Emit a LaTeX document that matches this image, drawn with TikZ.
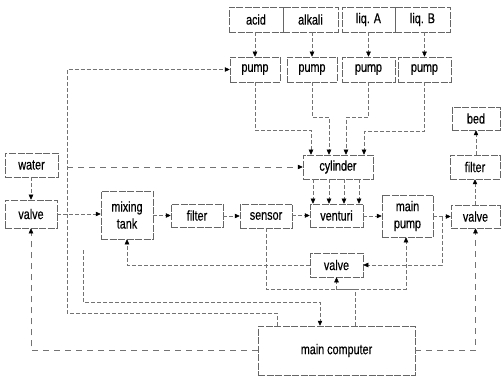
\documentclass[tikz,border=0pt]{standalone}
\usepackage{fontspec}
\newfontfamily\diagfont[FakeStretch=0.76,FakeBold=0.4]{Liberation Sans}
\usetikzlibrary{arrows.meta}
\tikzset{
  box/.style={draw=black!60, line width=0.5pt, dash pattern=on 7pt off 1.5pt,
    inner sep=0pt, align=center, font=\diagfont\fontsize{14.2}{17}\selectfont},
  conn/.style={draw=black!55, line width=0.5pt, dash pattern=on 4pt off 2pt},
  arr/.style={conn, -{Triangle[length=5pt,width=4.5pt,black]}},
}
\begin{document}
\begin{tikzpicture}[x=1pt,y=-1pt]
\useasboundingbox (0,0) rectangle (501,377);
% top supply boxes
\node[box, minimum width=54pt, minimum height=25pt] (acid) at (256,19.5) {acid};
\node[box, minimum width=55pt, minimum height=25pt] (alkali) at (310.5,19.5) {alkali};
\node[box, minimum width=53pt, minimum height=25pt] (liqA) at (368.5,19.5) {liq. A};
\node[box, minimum width=55pt, minimum height=25pt] (liqB) at (422.5,19.5) {liq. B};
% pumps
\node[box, minimum width=50pt, minimum height=25pt] (pump1) at (255,69.5) {pump};
\node[box, minimum width=50pt, minimum height=25pt] (pump2) at (312,69.5) {pump};
\node[box, minimum width=53pt, minimum height=25pt] (pump3) at (368.5,69.5) {pump};
\node[box, minimum width=53pt, minimum height=25pt] (pump4) at (424.5,69.5) {pump};
% right column
\node[box, minimum width=48pt, minimum height=23pt] (bed) at (476,118.5) {bed};
\node[box, minimum width=50pt, minimum height=24pt] (filterB) at (475,167) {filter};
\node[box, minimum width=49pt, minimum height=23pt] (valveR) at (475.5,216.5) {valve};
% middle
\node[box, minimum width=70pt, minimum height=24pt] (cylinder) at (338,167) {cylinder};
\node[box, minimum width=53pt, minimum height=24pt] (water) at (31.5,165) {water};
\node[box, minimum width=52pt, minimum height=28pt] (valveL) at (31,214) {valve};
\node[box, minimum width=52pt, minimum height=48pt] (mixing) at (127,215) {mixing\\tank};
\node[box, minimum width=52pt, minimum height=23pt] (filterA) at (197,215.5) {filter};
\node[box, minimum width=52pt, minimum height=24pt] (sensor) at (266,216) {sensor};
\node[box, minimum width=53pt, minimum height=23pt] (venturi) at (336.5,215.5) {venturi};
\node[box, minimum width=51pt, minimum height=42pt] (mainpump) at (407.5,216) {main\\pump};
\node[box, minimum width=53pt, minimum height=24pt] (valveM) at (336.5,265) {valve};
\node[box, minimum width=157pt, minimum height=49pt] (comp) at (336.5,350.5) {main computer};
% coordinates
\coordinate (br) at (442,217);
\coordinate (j1) at (355,289);
\coordinate (c1) at (83,250);
\coordinate (c2) at (320,302);
\coordinate (d1) at (277,313);
\coordinate (d0) at (67,313);
% supplies to pumps
\draw[arr] (pump1.north |- acid.south) -- (pump1.north);
\draw[arr] (pump2.north |- alkali.south) -- (pump2.north);
\draw[arr] (pump3.north |- liqA.south) -- (pump3.north);
\draw[arr] (pump4.north |- liqB.south) -- (pump4.north);
% pumps to cylinder
\draw[arr] (pump1.south) -- ++(0,48) -| ([xshift=-27pt]cylinder.north);
\draw[arr] (pump2.south) -- ++(0,35) -| ([xshift=-9pt]cylinder.north);
\draw[arr] (pump3.south) -- ++(0,35) -| ([xshift=8pt]cylinder.north);
\draw[arr] (pump4.south) -- ++(0,49) -| ([xshift=26pt]cylinder.north);
% cylinder to venturi
\foreach \dx in {-23.5,-7.5,7.5,22.5}
  \draw[arr] ([xshift=\dx pt]venturi.north |- cylinder.south) -- ([xshift=\dx pt]venturi.north);
% main line
\draw[arr] (valveL.north |- water.south) -- (valveL.north);
\draw[arr] (valveL.east) -- (valveL.east -| mixing.west);
\draw[arr] (mixing.east |- filterA.west) -- (filterA.west);
\draw[arr] (filterA.east |- sensor.west) -- (sensor.west);
\draw[arr] (sensor.east |- venturi.west) -- (venturi.west);
\draw[arr] (venturi.east |- mainpump.west) -- (mainpump.west);
\draw[arr] (mainpump.east |- valveR.west) -- (valveR.west);
\draw[arr] (filterB.south |- valveR.north) -- (filterB.south);
\draw[arr] (bed.south |- filterB.north) -- (bed.south);
% return through middle valve
\draw[arr] (br) |- (valveM.east);
\draw[arr] (valveM.west) -| (mixing.south);
% computer connections
\draw[arr, dash pattern=on 6pt off 5pt] (comp.west) -| (valveL.south);
\draw[arr, dash pattern=on 6pt off 5pt] (comp.east) -| (valveR.south);
\draw[conn] (comp.north -| j1) -- (j1);
\draw[arr] (j1) -| (valveM.south);
\draw[arr] (j1) -| ([xshift=-1.5pt]mainpump.south);
\draw[conn] (sensor.south) |- (j1);
\draw[arr] (c1) |- (c2) -- (comp.north -| c2);
\draw[arr] (comp.north -| d1) |- (d0) |- (pump1.west);
\draw[arr, dash pattern=on 6pt off 5pt] (d0 |- cylinder.west) -- (cylinder.west);
\end{tikzpicture}
\end{document}
